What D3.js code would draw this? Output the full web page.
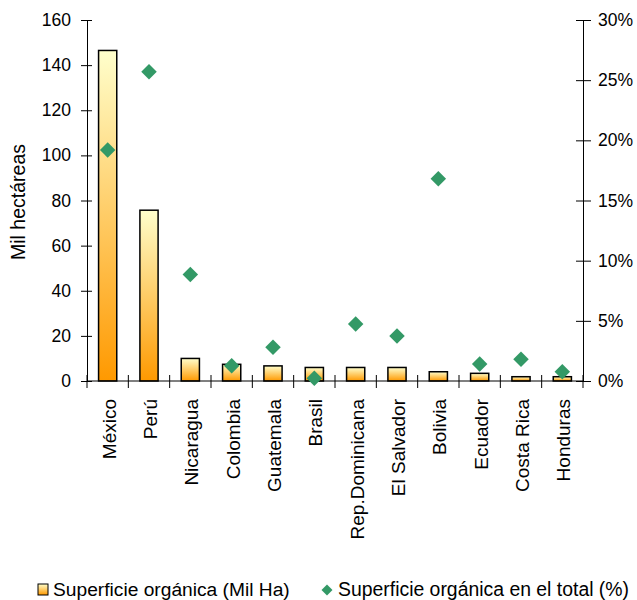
<!DOCTYPE html>
<html><head><meta charset="utf-8">
<script src="https://cdn.jsdelivr.net/npm/d3@7"></script>
<style>body{margin:0;background:#fff}svg{display:block;font-family:"Liberation Sans",Arial,sans-serif}</style>
</head><body><svg id="c" width="637" height="600"></svg>
<script>
const categories = ["México","Perú","Nicaragua","Colombia","Guatemala","Brasil","Rep.Dominicana","El Salvador","Bolivia","Ecuador","Costa Rica","Honduras"];
const areaValues = [146.5,75.7,10.0,7.4,6.7,6.0,6.0,6.0,4.1,3.4,1.9,1.9];
const shareValues = [19.2,25.7,8.85,1.27,2.8,0.22,4.73,3.73,16.8,1.41,1.8,0.77];
const leftTicks = [0,20,40,60,80,100,120,140,160];
const rightTicks = [0,5,10,15,20,25,30];
const seriesNames = ["Superficie orgánica (Mil Ha)","Superficie orgánica en el total (%)"];

const svg = d3.select("#c");
const L = 87, R = 583, T = 20, B = 381;
const x = d3.scaleBand().domain(categories).range([L, R]).paddingInner(0.56).paddingOuter(0.28);
const xc = d3.scaleBand().domain(categories).range([L, R]);
const yL = d3.scaleLinear().domain([0,160]).range([B, T]);
const yR = d3.scaleLinear().domain([0,30]).range([B, T]);

const defs = svg.append("defs");
const g = defs.append("linearGradient").attr("id","bg").attr("x1",0).attr("y1",0).attr("x2",0).attr("y2",1);
g.append("stop").attr("offset","0%").attr("stop-color","#FFFFCC");
g.append("stop").attr("offset","100%").attr("stop-color","#FF9900");

// bars
svg.append("g").selectAll("rect").data(categories).join("rect")
  .attr("x", d => x(d)).attr("width", x.bandwidth())
  .attr("y", (d,i) => yL(areaValues[i])).attr("height", (d,i) => B - yL(areaValues[i]))
  .attr("fill","url(#bg)").attr("stroke","#000").attr("stroke-width",1.5);

// left axis
const la = svg.append("g").attr("transform",`translate(${L},0)`)
  .call(d3.axisLeft(yL).tickValues(leftTicks).tickSizeInner(6).tickSizeOuter(0).tickPadding(10));
la.selectAll(".tick line").attr("x2",5).attr("x1",-6);
// right axis
const ra = svg.append("g").attr("transform",`translate(${R},0)`)
  .call(d3.axisRight(yR).tickValues(rightTicks).tickFormat(d => d + "%").tickSizeInner(8).tickSizeOuter(0).tickPadding(7));
ra.selectAll(".tick line").attr("x1",-7).attr("x2",8);
// bottom axis
const ba = svg.append("g").attr("transform",`translate(0,${B})`);
ba.append("line").attr("x1",L).attr("x2",R).attr("stroke","#000");
const tickPos = categories.map(c => xc(c)).concat([R]);
ba.selectAll("line.t").data(tickPos).join("line").attr("class","t")
  .attr("x1",d=>d).attr("x2",d=>d).attr("y1",-6).attr("y2",7).attr("stroke","#000");
ba.selectAll("text").data(categories).join("text")
  .attr("transform", d => `translate(${xc(d)+xc.bandwidth()/2+8},${18}) rotate(-90)`)
  .attr("text-anchor","end").attr("font-size",19).attr("fill","#000").text(d => d);

[la, ra].forEach(a => {
  a.select(".domain").attr("stroke","#000");
  a.selectAll(".tick line").attr("stroke","#000");
  a.selectAll("text").attr("font-size",17.5).attr("fill","#000").attr("font-family","'Liberation Sans',Arial,sans-serif");
});

// diamonds
const dsym = d3.symbol().type(d3.symbolSquare).size(120);
svg.append("g").selectAll("path").data(categories).join("path")
  .attr("d", dsym)
  .attr("transform", (d,i) => `translate(${xc(d)+xc.bandwidth()/2},${yR(shareValues[i])}) rotate(45)`)
  .attr("fill","#339966");

// y title
svg.append("text").attr("transform",`translate(25,202) rotate(-90)`)
  .attr("text-anchor","middle").attr("font-size",19.5).text("Mil hectáreas");

// legend
const lg = svg.append("g");
lg.append("rect").attr("x",38).attr("y",584).attr("width",10).attr("height",11)
  .attr("fill","url(#bg)").attr("stroke","#000").attr("stroke-width",1);
lg.append("text").attr("x",53).attr("y",596).attr("font-size",19.2).text(seriesNames[0]);
lg.append("path").attr("d", d3.symbol().type(d3.symbolSquare).size(60))
  .attr("transform","translate(327,590) rotate(45)").attr("fill","#339966");
lg.append("text").attr("x",338).attr("y",596).attr("font-size",19.4).text(seriesNames[1]);
</script></body></html>
